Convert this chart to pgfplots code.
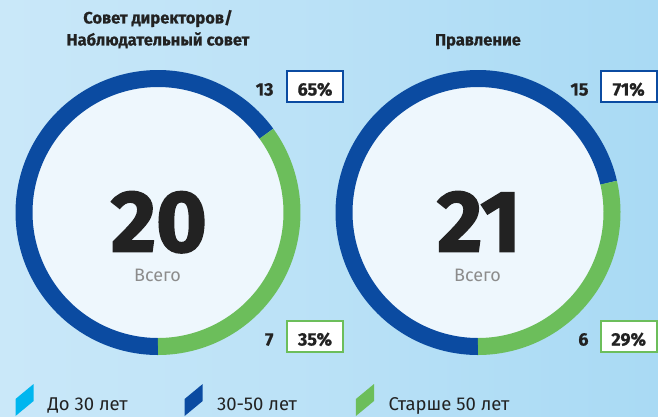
\documentclass[border=0pt]{standalone}
\usepackage{fontspec}
\setmainfont{Fira Sans}
\newfontfamily\fheavy{Fira Sans}[FakeBold=2]
\newfontfamily\fxbold{Fira Sans}[FakeBold=0.6]
\usepackage{pgfplots}
\pgfplotsset{compat=1.18}
\definecolor{dblue}{HTML}{0B4BA1}
\definecolor{lgreen}{HTML}{6CBE5B}
\definecolor{cyanl}{HTML}{00B6EF}
\definecolor{bgL}{HTML}{CAE8F9}
\definecolor{bgR}{HTML}{A9DAF4}
\definecolor{innerc}{HTML}{EEF7FD}
\definecolor{txt}{HTML}{222222}
\definecolor{gr}{HTML}{8C8C8C}
\begin{document}
\begin{tikzpicture}[x=1pt,y=-1pt]
\path[use as bounding box] (0,0) rectangle (658,417);
\shade[left color=bgL, right color=bgR] (0,0) rectangle (658,417);
\fill[innerc] (158,212.5) circle[radius=126];
\fill[innerc] (478,212.5) circle[radius=126];
\begin{axis}[at={(0,0)}, anchor=north west, x=1pt, y=1pt, y dir=reverse,
  xmin=0, xmax=658, ymin=0, ymax=417, hide axis, clip=false, scale only axis]
% left: 13 of 20 (30-50), 7 of 20 (over 50); 360/20 = 18 deg per person
\addplot[draw=dblue, no markers, line width=17pt, domain=0:13, samples=150]
  ({158+134*cos(90+18*x)},{212.5+134*sin(90+18*x)});
\addplot[draw=lgreen, no markers, line width=17pt, domain=13:20, samples=100]
  ({158+134*cos(90+18*x)},{212.5+134*sin(90+18*x)});
% right: 15 of 21, 6 of 21
\addplot[draw=dblue, no markers, line width=17pt, domain=0:15, samples=150]
  ({478+134*cos(90+360/21*x)},{212.5+134*sin(90+360/21*x)});
\addplot[draw=lgreen, no markers, line width=17pt, domain=15:21, samples=100]
  ({478+134*cos(90+360/21*x)},{212.5+134*sin(90+360/21*x)});
\end{axis}
% titles
\tikzset{ttl/.style={font=\fxbold\bfseries\fontsize{16.5}{18}\selectfont, text=txt, anchor=base}}
\node[ttl] at (158,23.5) {Совет директоров/};
\node[ttl] at (158,45.5) {Наблюдательный совет};
\node[ttl] at (478,45.5) {Правление};
% totals
\tikzset{big/.style={font=\fheavy\bfseries\fontsize{87}{87}\selectfont, text=txt, anchor=base, inner sep=0pt},
  tot/.style={font=\fontsize{18}{20}\selectfont, text=gr, anchor=base, inner sep=0pt}}
\node[big] at (159,251.5) {20};
\node[tot] at (157.5,281) {Всего};
\node[big] at (479,251.5) {21};
\node[tot] at (477.5,281) {Всего};
% labels
\tikzset{lab/.style={font=\fxbold\bfseries\fontsize{18}{19}\selectfont, text=txt},
  box/.style={line width=2pt, fill=white, minimum width=56pt, minimum height=31pt, inner sep=0pt}}
\node[lab, anchor=base east] at (277,95.5) {13};
\node[box, draw=dblue] at (315,86.5) {};
\node[lab, anchor=base] at (315,95.5) {65\%};
\node[lab, anchor=base east] at (592,95.5) {15};
\node[box, draw=dblue] at (628.7,86.5) {};
\node[lab, anchor=base] at (628.7,95.5) {71\%};
\node[lab, anchor=base east] at (277,345.5) {7};
\node[box, draw=lgreen] at (315,336.5) {};
\node[lab, anchor=base] at (315,345.5) {35\%};
\node[lab, anchor=base east] at (592,345.5) {6};
\node[box, draw=lgreen] at (628.7,336.5) {};
\node[lab, anchor=base] at (628.7,345.5) {29\%};
% legend
\fill[cyanl] (15.5,399) -- (33.6,384) -- (33.6,401) -- (15.5,416) -- cycle;
\fill[dblue] (184.6,399) -- (202.7,384) -- (202.7,401) -- (184.6,416) -- cycle;
\fill[lgreen] (355.9,399) -- (374,384) -- (374,401) -- (355.9,416) -- cycle;
\tikzset{leg/.style={font=\fontsize{18.5}{20}\selectfont, text=txt, anchor=base west}}
\node[leg] at (44,410) {До 30 лет};
\node[leg] at (213.5,410) {30-50 лет};
\node[leg] at (385,410) {Старше 50 лет};
\end{tikzpicture}
\end{document}
